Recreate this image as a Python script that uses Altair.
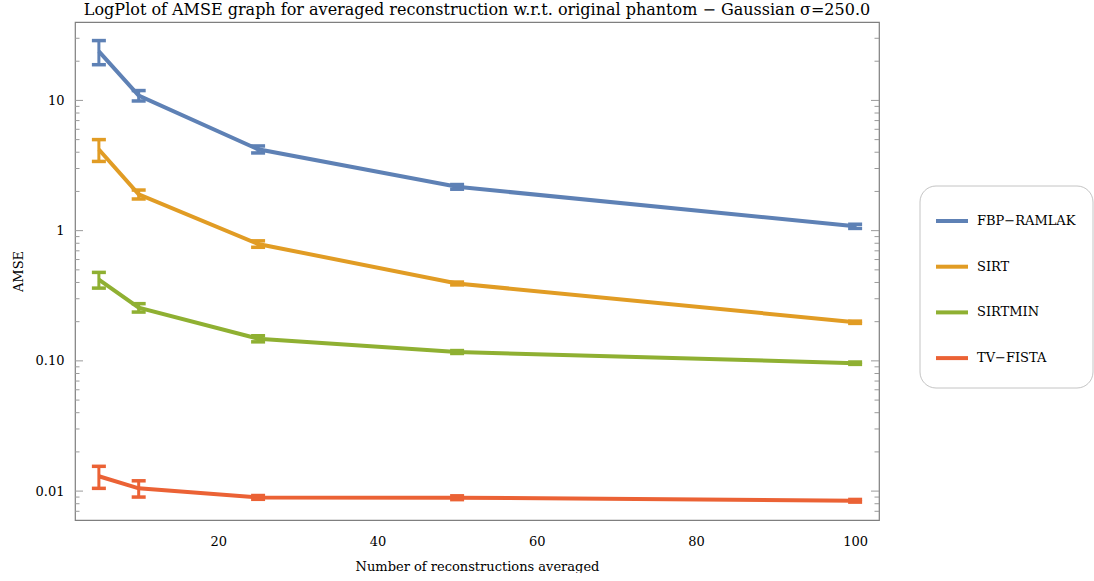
import altair as alt
import pandas as pd

# Number of reconstructions averaged
n_avg = [5, 10, 25, 50, 100]

# Mean AMSE and error half-widths per method
methods = ["FBP−RAMLAK", "SIRT", "SIRTMIN", "TV−FISTA"]
fbp_mean = [23.8, 10.9, 4.21, 2.17, 1.08]
fbp_err = [5.0, 1.0, 0.26, 0.09, 0.04]
sirt_mean = [4.2, 1.9, 0.79, 0.393, 0.198]
sirt_err = [0.8, 0.15, 0.045, 0.01, 0.004]
sirtmin_mean = [0.42, 0.256, 0.148, 0.117, 0.096]
sirtmin_err = [0.058, 0.019, 0.008, 0.003, 0.002]
tv_mean = [0.0130, 0.0105, 0.00895, 0.0089, 0.00843]
tv_err = [0.0025, 0.0015, 0.0003, 0.0003, 0.0002]

colors = ["#5E81B5", "#E19C24", "#8FB032", "#EB6235"]

major_ticks = [0.01, 0.1, 1, 10]
minor_ticks = [0.007, 0.008, 0.009,
               0.02, 0.03, 0.04, 0.05, 0.06, 0.07, 0.08, 0.09,
               0.2, 0.3, 0.4, 0.5, 0.6, 0.7, 0.8, 0.9,
               2, 3, 4, 5, 6, 7, 8, 9, 20, 30]

rows = []
for name, means, errs in [(methods[0], fbp_mean, fbp_err),
                          (methods[1], sirt_mean, sirt_err),
                          (methods[2], sirtmin_mean, sirtmin_err),
                          (methods[3], tv_mean, tv_err)]:
    for n, m, e in zip(n_avg, means, errs):
        rows.append({"n": n, "amse": m, "lo": m - e, "hi": m + e, "method": name})
df = pd.DataFrame(rows)
caps = pd.concat([
    df[["n", "method", "lo"]].rename(columns={"lo": "v"}),
    df[["n", "method", "hi"]].rename(columns={"hi": "v"}),
])

W, H = 804, 498
SERIF = "DejaVu Serif"
GRAY = "#9a9a9a"

xs = alt.Scale(domain=[2, 103], nice=False, zero=False)
ys = alt.Scale(type="log", domain=[0.006, 40], nice=False)
color = alt.Color(
    "method:N",
    scale=alt.Scale(domain=methods, range=colors),
    legend=alt.Legend(
        title=None, orient="none", legendX=859, legendY=181,
        symbolType="stroke", symbolStrokeWidth=4, symbolSize=1024,
        padding=0, rowPadding=19.7, labelFont=SERIF, labelFontSize=13,
        labelColor="#000000", labelOffset=7,
    ),
)

x_enc = alt.X("n:Q", scale=xs, axis=alt.Axis(
    values=[20, 40, 60, 80, 100], ticks=False, domain=False, grid=False,
    labelFont=SERIF, labelFontSize=13, labelColor="#000000", labelPadding=15,
    title="Number of reconstructions averaged", titleFont=SERIF,
    titleFontSize=13, titleFontWeight="normal", titleColor="#000000",
    titlePadding=12))
y_axis = alt.Axis(
    values=major_ticks, ticks=False, domain=False, grid=False,
    labelExpr="datum.value < 0.05 ? '0.01' : datum.value < 0.5 ? '0.10' : datum.value < 5 ? '1' : '10'",
    labelFont=SERIF, labelFontSize=13, labelColor="#000000", labelPadding=11,
    title="AMSE", titleFont=SERIF, titleFontSize=13, titleFontWeight="normal",
    titleColor="#000000", titlePadding=10)

lines = alt.Chart(df).mark_line(strokeWidth=4).encode(
    x=x_enc, y=alt.Y("amse:Q", scale=ys, axis=y_axis), color=color)

bars = alt.Chart(df).mark_rule(strokeWidth=3, opacity=1).encode(
    x="n:Q", y="lo:Q", y2="hi:Q", color=alt.Color("method:N", legend=None))

cap_marks = alt.Chart(caps).mark_tick(
    orient="horizontal", size=14, thickness=3.5, opacity=1).encode(
    x="n:Q", y="v:Q", color=alt.Color("method:N", legend=None))

# Inward frame ticks on the left and right edges
left_major = alt.Chart(pd.DataFrame({"v": major_ticks})).mark_rule(
    color=GRAY, strokeWidth=1).encode(x=alt.value(0), x2=alt.value(8), y="v:Q")
left_minor = alt.Chart(pd.DataFrame({"v": minor_ticks})).mark_rule(
    color=GRAY, strokeWidth=1).encode(x=alt.value(0), x2=alt.value(4.5), y="v:Q")
right_major = alt.Chart(pd.DataFrame({"v": major_ticks})).mark_rule(
    color=GRAY, strokeWidth=1).encode(x=alt.value(W - 8), x2=alt.value(W), y="v:Q")
right_minor = alt.Chart(pd.DataFrame({"v": minor_ticks})).mark_rule(
    color=GRAY, strokeWidth=1).encode(x=alt.value(W - 4.5), x2=alt.value(W), y="v:Q")

# Rounded frame around the legend
legend_box = alt.Chart(pd.DataFrame({"k": [0]})).mark_rect(
    fill="white", stroke="#c4c4c4", strokeWidth=1, cornerRadius=16, clip=False).encode(
    x=alt.value(845), x2=alt.value(1018), y=alt.value(164), y2=alt.value(366))

chart = alt.layer(
    legend_box, left_major, left_minor, right_major, right_minor, lines, bars, cap_marks
).resolve_scale(color="shared").properties(
    width=W, height=H,
    title=alt.TitleParams(
        "LogPlot of AMSE graph for averaged reconstruction w.r.t. original phantom − Gaussian σ=250.0",
        font=SERIF, fontSize=16, fontWeight="normal", color="#000000",
        anchor="middle", offset=4),
    padding={"left": 12, "top": 2, "right": 0, "bottom": 0},
).configure(background="white").configure_view(stroke="#7f7f7f", strokeWidth=1.2)

chart.save("out.html", embed_options={"renderer": "svg", "actions": False})
